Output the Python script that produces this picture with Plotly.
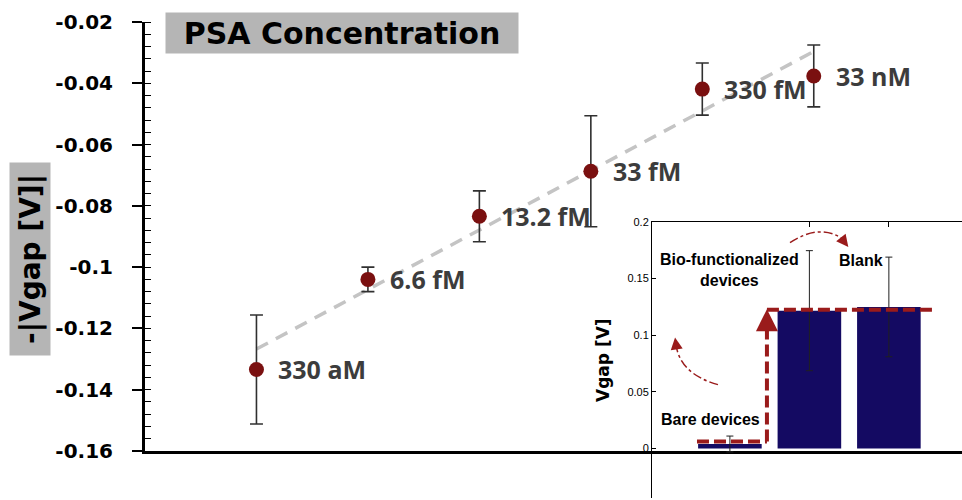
import numpy as np
import plotly.graph_objects as go

# ---------------- data: main chart ----------------
concentrations = ["330 aM", "6.6 fM", "13.2 fM", "33 fM", "330 fM", "33 nM"]
positions = [1, 2, 3, 4, 5, 6]
vgap = [-0.1334, -0.1040, -0.0834, -0.0687, -0.0419, -0.0376]
vgap_err = [0.0178, 0.0040, 0.0083, 0.0181, 0.0085, 0.0101]

y_ticks = [-0.02, -0.04, -0.06, -0.08, -0.10, -0.12, -0.14, -0.16]
y_tick_labels = ["-0.02", "-0.04", "-0.06", "-0.08", "-0.1", "-0.12", "-0.14", "-0.16"]

# ---------------- data: inset bar chart ----------------
inset_labels = ["Bare devices", "Bio-functionalized<br>devices", "Blank"]
inset_pos = [1, 2, 3]
inset_vgap = [0.004, 0.1217, 0.125]
inset_err = [0.007, 0.0530, 0.0440]
inset_ticks = [0, 0.05, 0.1, 0.15, 0.2]
inset_tick_labels = ["0", "0.05", "0.1", "0.15", "0.2"]

# decoration anchor points (inset coordinates)
inset_label_xy = [(0.75, 0.0256), (1.0, 0.158), (2.65, 0.166)]
step_path_x = [0.586, 1.466, 1.466, 3.542]
step_path_y = [0.0062, 0.0062, 0.1226, 0.1226]

DARKRED = "#9a1b1b"
fig = go.Figure()

# trend line (least squares from data)
slope, intercept = np.polyfit(positions, vgap, 1)
tx = [positions[0], positions[-1]]
ty = [slope * x + intercept for x in tx]
fig.add_trace(go.Scatter(x=tx, y=ty, mode="lines",
                         line=dict(color="#c4c4c4", width=3.5, dash="13px,9px"),
                         hoverinfo="skip", showlegend=False))

fig.add_trace(go.Scatter(
    x=positions, y=vgap, mode="markers",
    marker=dict(color="#7a1010", size=15),
    error_y=dict(type="data", array=vgap_err, color="#303030", thickness=1.6, width=6.5),
    showlegend=False))

# inset bars
fig.add_trace(go.Bar(
    x=inset_pos, y=inset_vgap, width=0.8, xaxis="x2", yaxis="y2",
    marker=dict(color="#140a62", line=dict(width=0)),
    error_y=dict(type="data", array=inset_err, color="#202020", thickness=1, width=3.5),
    showlegend=False))

annotations = []
for x, y, t in zip(positions, vgap, concentrations):
    annotations.append(dict(x=x, y=y, xref="x", yref="y", text="<b>" + t + "</b>",
                            showarrow=False, xanchor="left", yanchor="middle", xshift=20,
                            font=dict(family="Open Sans", size=25, color="#3c3c3c")))

# title box
annotations.append(dict(x=165 / 962, y=1 - 12 / 500, xref="paper", yref="paper",
                        xanchor="left", yanchor="top", text="<b>PSA Concentration</b>",
                        showarrow=False, bgcolor="#b5b5b5", width=352, height=40, borderpad=0,
                        font=dict(family="DejaVu Sans", size=30, color="black")))
# y label box
annotations.append(dict(x=30 / 962, y=1 - 259 / 500, xref="paper", yref="paper",
                        xanchor="center", yanchor="middle", text="<b>-|Vgap [V]|</b>",
                        textangle=-90, showarrow=False, bgcolor="#b5b5b5",
                        width=192, height=40, borderpad=0,
                        font=dict(family="DejaVu Sans", size=28, color="black")))

# inset labels
for (lx, ly), t in zip(inset_label_xy, inset_labels):
    annotations.append(dict(x=lx, y=ly, xref="x2", yref="y2", text="<b>" + t + "</b>",
                            showarrow=False, xanchor="center", yanchor="middle",
                            font=dict(family="Liberation Sans", size=16, color="black")))
annotations.append(dict(x=603 / 962, y=1 - 360 / 500, xref="paper", yref="paper",
                        text="<b>Vgap [V]</b>", showarrow=False, textangle=-90,
                        xanchor="center", yanchor="middle",
                        font=dict(family="DejaVu Sans", size=17, color="black")))

# arrowheads
annotations.append(dict(x=1.466, y=0.123, ax=1.466, ay=0.108, xref="x2", yref="y2",
                        axref="x2", ayref="y2", text="", showarrow=True, arrowhead=2,
                        arrowsize=1.1, arrowwidth=4, arrowcolor=DARKRED))
annotations.append(dict(x=0.31, y=0.098, ax=0.33, ay=0.088, xref="x2", yref="y2",
                        axref="x2", ayref="y2", text="", showarrow=True, arrowhead=2,
                        arrowsize=1.6, arrowwidth=1.5, arrowcolor=DARKRED))
annotations.append(dict(x=2.49, y=0.178, ax=2.40, ay=0.186, xref="x2", yref="y2",
                        axref="x2", ayref="y2", text="", showarrow=True, arrowhead=2,
                        arrowsize=1.6, arrowwidth=1.5, arrowcolor=DARKRED))

shapes = []
# dashed step line
for i in range(len(step_path_x) - 1):
    y1 = step_path_y[i + 1]
    if i == 1:
        y1 = 0.110
    shapes.append(dict(type="line", xref="x2", yref="y2",
                       x0=step_path_x[i], y0=step_path_y[i], x1=step_path_x[i + 1], y1=y1,
                       line=dict(color=DARKRED, width=4, dash="12px,5px")))
# curved dash-dot arrows
shapes.append(dict(type="path", xref="x2", yref="y2",
                   path="M 0.85,0.0564 Q 0.36,0.066 0.32,0.093",
                   line=dict(color=DARKRED, width=1.5, dash="dashdot")))
shapes.append(dict(type="path", xref="x2", yref="y2",
                   path="M 1.756,0.1817 Q 2.13,0.199 2.42,0.185",
                   line=dict(color=DARKRED, width=1.5, dash="dashdot")))

fig.update_layout(
    width=962, height=500, autosize=False,
    margin=dict(l=0, r=0, t=0, b=0, pad=0, autoexpand=False),
    paper_bgcolor="white", plot_bgcolor="rgba(0,0,0,0)",
    showlegend=False,
    xaxis=dict(domain=[145 / 962, 1], range=[0, 7.33], showgrid=False, zeroline=False,
               showline=True, linecolor="black", linewidth=3, ticks="", showticklabels=False),
    yaxis=dict(domain=[49 / 500, 478 / 500], range=[-0.16, -0.02], showgrid=False,
               zeroline=False, showline=True, linecolor="black", linewidth=3,
               tickvals=y_ticks, ticktext=y_tick_labels, ticks="outside", ticklen=10,
               tickwidth=1.5, tickcolor="black", ticklabelstandoff=15,
               tickfont=dict(family="DejaVu Sans", size=20, color="black", weight="bold"),
               minor=dict(ticks="inside", dtick=0.004, tick0=-0.16, ticklen=6,
                          tickwidth=1, tickcolor="black", showgrid=False)),
    xaxis2=dict(domain=[652 / 962, 1], range=[0.02, 3.92], anchor="y2", side="top",
                showgrid=False, zeroline=False, showline=True, linecolor="black",
                linewidth=1, tickvals=[2, 3], ticks="inside", ticklen=5,
                tickcolor="black", showticklabels=False),
    yaxis2=dict(domain=[2 / 500, 278 / 500], range=[-0.0437, 0.2], anchor="x2",
                showgrid=False, zeroline=False, showline=True, linecolor="black",
                linewidth=1, tickvals=inset_ticks, ticktext=inset_tick_labels,
                ticks="inside", ticklen=4, tickcolor="black",
                tickfont=dict(family="Liberation Sans", size=11, color="black")),
    annotations=annotations,
    shapes=shapes,
)

fig.write_html("out.html", config={"displayModeBar": False},
               post_script="document.body.style.margin='0';")
